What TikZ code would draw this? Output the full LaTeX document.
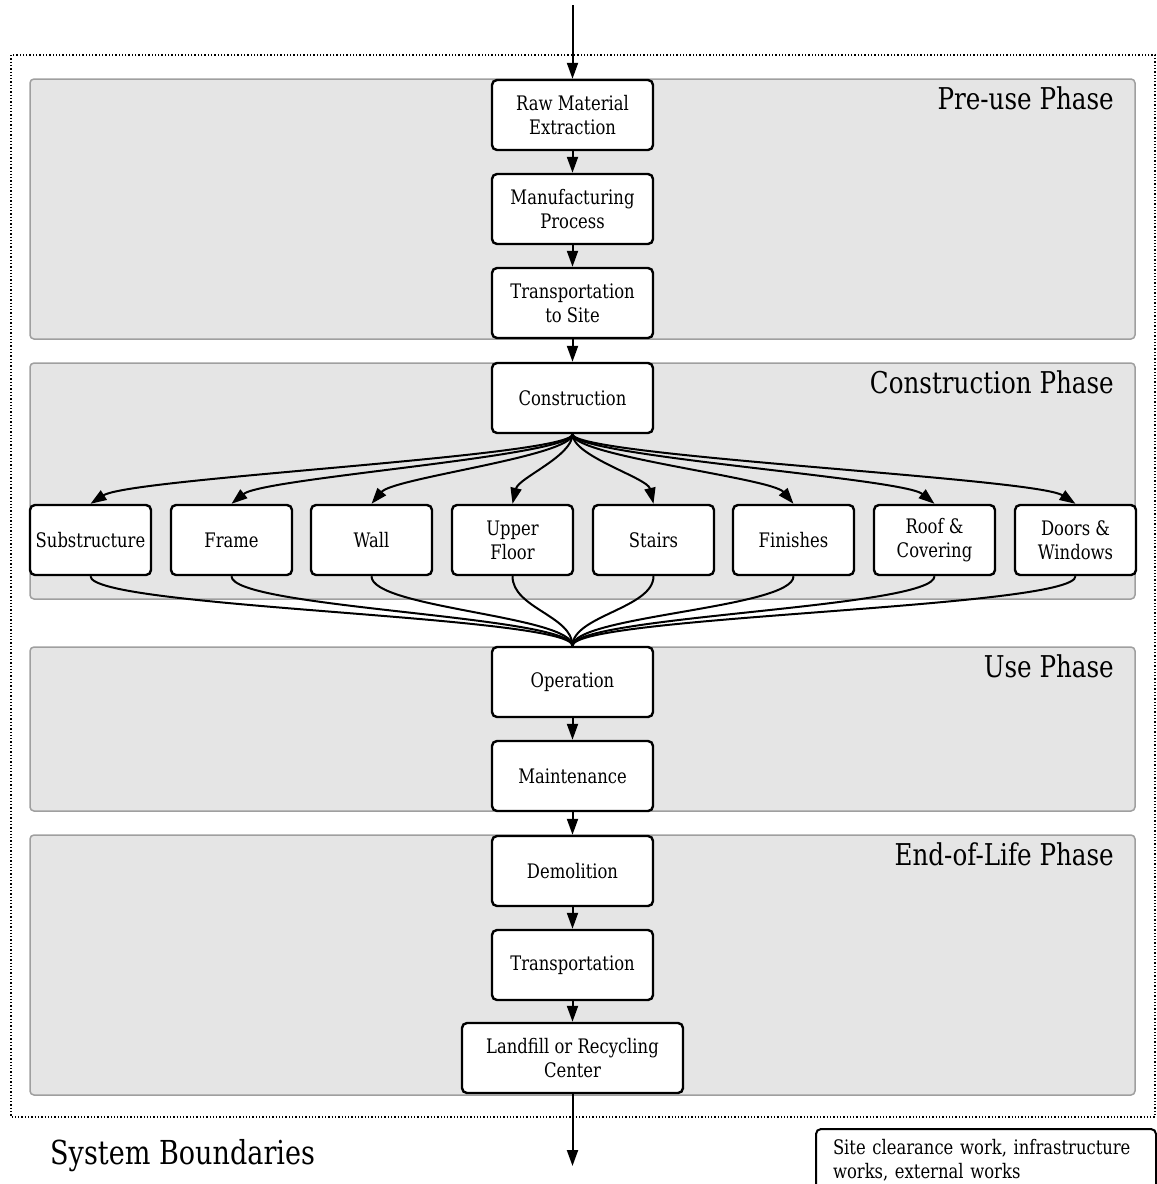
\documentclass[tikz,border=0pt]{standalone}
\usepackage{fontspec}
\setmainfont{DejaVu Serif}[FakeStretch=0.82]
\usetikzlibrary{arrows.meta}
\begin{document}
\begin{tikzpicture}[x=1pt,y=-1pt,
 panel/.style={draw=gray!75, fill=gray!20, line width=1.5pt, rounded corners=4pt},
 stepbox/.style={draw, line width=2.4pt, fill=white, rounded corners=5pt, minimum width=161pt, minimum height=70pt, align=center, font=\fontsize{20}{24}\selectfont, inner sep=2pt},
 elbox/.style={stepbox, minimum width=121pt},
 phaselabel/.style={anchor=base east, font=\fontsize{30}{36}\selectfont, inner sep=0pt},
 conn/.style={line width=2pt, -{Triangle[length=16pt,width=11pt]}},
 fanline/.style={line width=2pt}
]
\useasboundingbox (0,0) rectangle (1157,1184);
% system boundary
\draw[dotted, line width=1.3pt] (11,55) rectangle (1155,1117);
% phase panels
\draw[panel] (30,79) rectangle (1135,339);
\draw[panel] (30,363) rectangle (1135,599);
\draw[panel] (30,647) rectangle (1135,811);
\draw[panel] (30,835) rectangle (1135,1095);
\node[phaselabel] (lpre) at (1114,109) {Pre-use Phase};
\node[phaselabel] (lcon) at (1114,393) {Construction Phase};
\node[phaselabel] (luse) at (1114,677) {Use Phase};
\node[phaselabel] (leol) at (1114,865) {End-of-Life Phase};
% main chain
\node[stepbox] (raw) at (572.5,115) {Raw Material\\Extraction};
\node[stepbox] (man) at (572.5,209) {Manufacturing\\Process};
\node[stepbox] (tts) at (572.5,303) {Transportation\\to Site};
\node[stepbox] (con) at (572.5,398) {Construction};
\node[stepbox] (op) at (572.5,682) {Operation};
\node[stepbox] (mai) at (572.5,776) {Maintenance};
\node[stepbox] (dem) at (572.5,871) {Demolition};
\node[stepbox] (tra) at (572.5,965) {Transportation};
\node[stepbox, minimum width=221pt] (lan) at (572.5,1058) {Landfill or Recycling\\Center};
% elements
\node[elbox] (e1) at (90.5,540) {Substructure};
\node[elbox] (e2) at (231.5,540) {Frame};
\node[elbox] (e3) at (371.5,540) {Wall};
\node[elbox] (e4) at (512.5,540) {Upper\\Floor};
\node[elbox] (e5) at (653.5,540) {Stairs};
\node[elbox] (e6) at (793.5,540) {Finishes};
\node[elbox] (e7) at (934.5,540) {Roof \&\\Covering};
\node[elbox] (e8) at (1075.5,540) {Doors \&\\Windows};
% in/out
\coordinate (in) at (572.5,5);
\coordinate (out) at (572.5,1166);
\draw[conn] (in) -- (raw.north);
\draw[conn] (raw) -- (man);
\draw[conn] (man) -- (tts);
\draw[conn] (tts) -- (con);
\draw[conn] (op) -- (mai);
\draw[conn] (mai) -- (dem);
\draw[conn] (dem) -- (tra);
\draw[conn] (tra) -- (lan);
\draw[conn] (lan.south) -- (out);
% fan out / in
\foreach \e/\dx in {e1/40,e2/32,e3/22,e4/6,e5/-6,e6/-22,e7/-32,e8/-40}{
  \draw[conn] (con.south) .. controls +(0,22) and +(\dx,-26) .. (\e.north);
  \draw[fanline] (\e.south) .. controls +(0,32) and +(0,-30) .. (op.north);
}
% legend
\node[draw, line width=2pt, rounded corners=5pt, anchor=north west, text width=306pt, inner xsep=17pt, minimum height=62pt, align=left, font=\fontsize{20}{24}\selectfont] (leg) at (815,1128) {Site clearance work, infrastructure\\works, external works};
\node[anchor=base west, font=\fontsize{33}{38}\selectfont, inner sep=0pt] (sb) at (50,1164) {System Boundaries};
\end{tikzpicture}
\end{document}
